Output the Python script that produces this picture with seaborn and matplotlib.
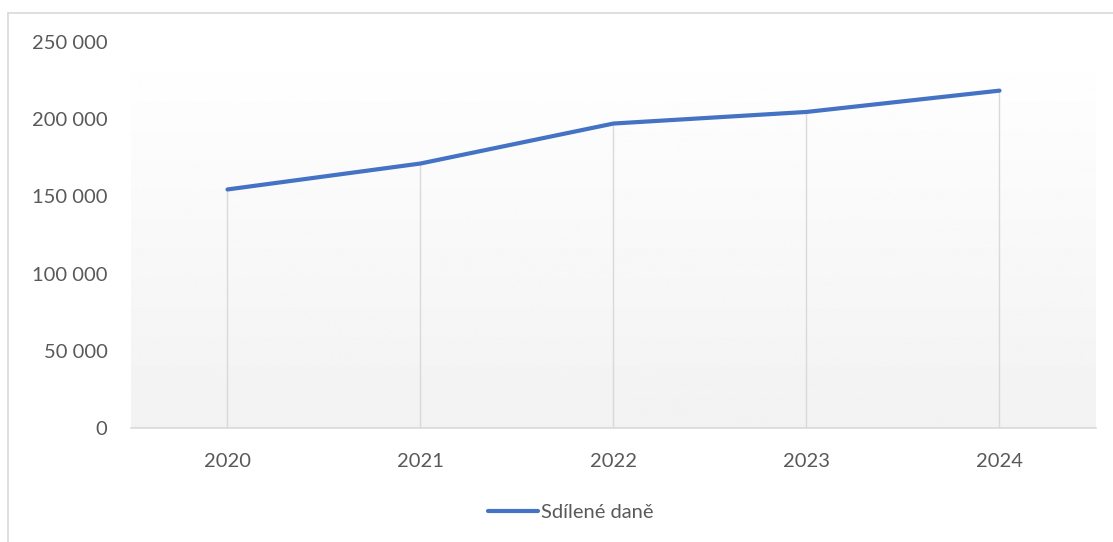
import numpy as np
import pandas as pd
import matplotlib.pyplot as plt
import matplotlib.lines as mlines
import seaborn as sns

years = [2020, 2021, 2022, 2023, 2024]
sdilene_dane = [154500, 171300, 197200, 204700, 218500]
y_ticks = [0, 50000, 100000, 150000, 200000, 250000]
series_name = 'Sdílené daně'

df = pd.DataFrame({'rok': years, 'hodnota': sdilene_dane})

sns.set_style('white')
plt.rcParams['font.family'] = ['Lato', 'DejaVu Sans']

fig = plt.figure(figsize=(11.13, 5.42), dpi=100)
ax = fig.add_axes([131 / 1113, 1 - 428 / 542, (1096 - 131) / 1113, (428 - 42) / 542])

# gradient pozadi (bila nahore, sediva dole)
grad = np.linspace(1.0, 0.949, 256).reshape(-1, 1)
ax.imshow(grad, cmap='gray', vmin=0, vmax=1, aspect='auto',
          extent=[2019.5, 2024.5, 0, 250000], zorder=0)

# svisle spojnice k ose
ax.vlines(df['rok'], 0, df['hodnota'], color='#d9d9d9', lw=1, zorder=1)

sns.lineplot(data=df, x='rok', y='hodnota', ax=ax, color='#4472c4',
             lw=3, zorder=3, legend=False, solid_capstyle='round')

ax.set_xlim(2019.5, 2024.5)
ax.set_ylim(0, 250000)
ax.set_xticks(years)
ax.set_yticks(y_ticks)
ax.set_yticklabels([f'{v:,}'.replace(',', ' ') for v in y_ticks])
ax.set_xlabel('')
ax.set_ylabel('')
ax.tick_params(axis='both', length=0, labelsize=14.5, colors='#595959')
ax.tick_params(axis='x', pad=18)
ax.tick_params(axis='y', pad=17)
for s in ['top', 'right', 'left']:
    ax.spines[s].set_visible(False)
ax.spines['bottom'].set_color('#d9d9d9')
ax.spines['bottom'].set_linewidth(1.2)

# ramecek grafu
fig.add_artist(mlines.Line2D([8 / 1113, 8 / 1113], [0, 1 - 13 / 542],
                             color='#d9d9d9', lw=1.2, transform=fig.transFigure))
fig.add_artist(mlines.Line2D([8 / 1113, 1], [1 - 13 / 542, 1 - 13 / 542],
                             color='#d9d9d9', lw=1.2, transform=fig.transFigure))

handle = mlines.Line2D([], [], color='#4472c4', lw=3, solid_capstyle='round')
fig.legend([handle], [series_name], loc='center', bbox_to_anchor=(571 / 1113, 1 - 512 / 542),
           frameon=False, fontsize=14.5, labelcolor='#595959', handlelength=2.5,
           handletextpad=0.15)

fig.savefig('out.png', dpi=100)
